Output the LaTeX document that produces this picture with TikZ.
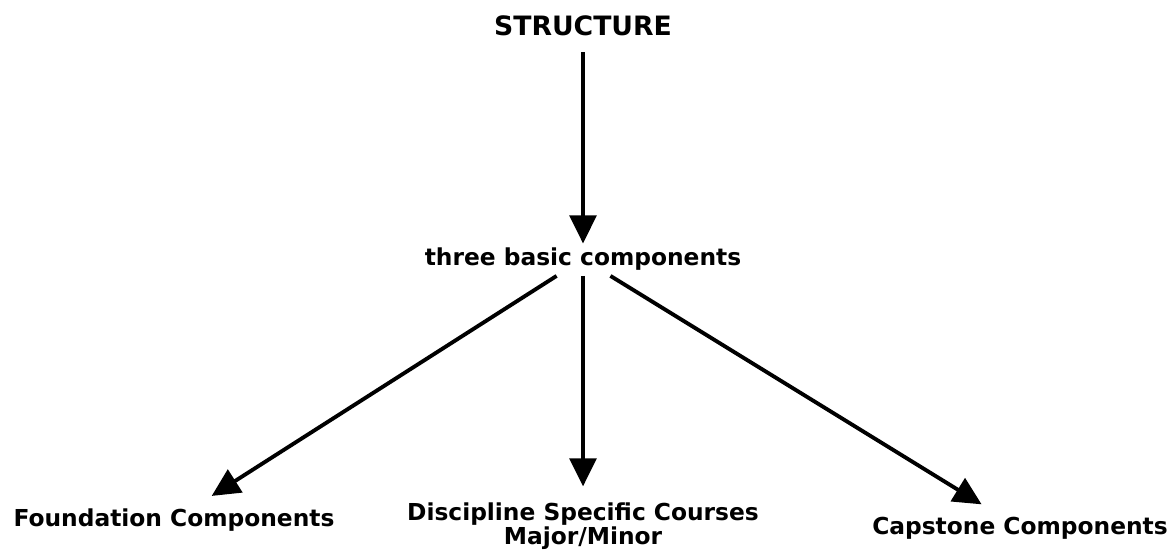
\documentclass[tikz,border=0pt]{standalone}
\usepackage{fontspec}
\setmainfont{DejaVu Sans}
\usetikzlibrary{arrows.meta}

\tikzset{
  label/.style={font=\bfseries\fontsize{17.5}{15}\selectfont, inner sep=4pt, align=center},
  title/.style={label, font=\bfseries\fontsize{20}{20}\selectfont},
  link/.style={-{Triangle[length=21pt,width=20pt]}, line width=2.9pt, shorten >=10pt}
}

\begin{document}
\begin{tikzpicture}[x=0.75pt, y=-0.75pt]
  \useasboundingbox (0,0) rectangle (1176,557);

  \node[title] (S) at (583,26) {STRUCTURE};
  \node[label] (T) at (583,259) {three basic components};

  \node[label] (F) at (174,520) {Foundation Components};
  \node[label] (D) at (583,526) {Discipline Specific Courses\\Major/Minor};
  \node[label] (C) at (1020,528) {Capstone Components};

  \draw[link, shorten <=8pt, shorten >=-1pt] (S) to (T);
  \draw[link] (T) to (F);
  \draw[link, shorten >=8pt] (T) to (D);
  \draw[link] (T) to (C);
\end{tikzpicture}
\end{document}
